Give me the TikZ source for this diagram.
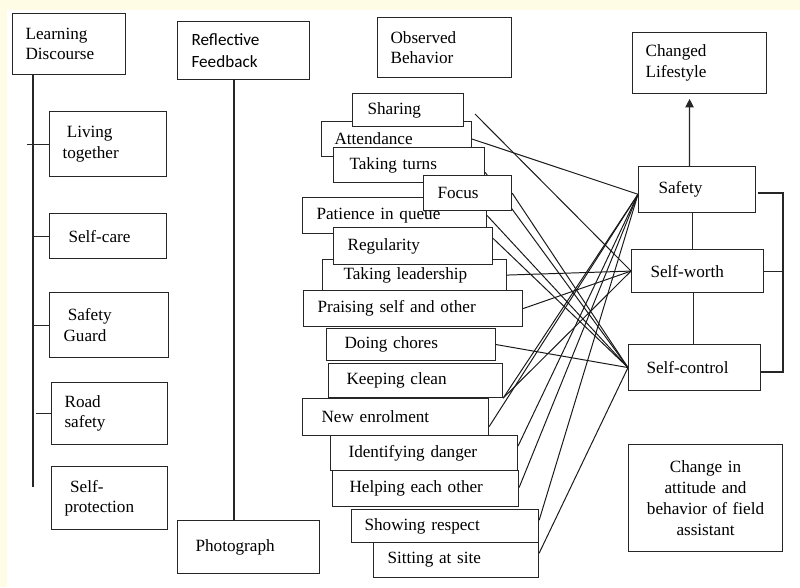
\documentclass[tikz,border=0pt]{standalone}
\usepackage{fontspec}
\setmainfont{Liberation Serif}
\newfontfamily\calibrif{Carlito}
\usetikzlibrary{calc,arrows.meta}
\pgfdeclarelayer{bg}\pgfdeclarelayer{ln}\pgfsetlayers{bg,ln,main}
\definecolor{cream}{HTML}{FFFCE6}
\newlength\bxw \newlength\bxh \newlength\bxp
\newcommand\mkbox[8][]{%
  \pgfmathsetlength\bxp{#7*0.025cm}%
  \pgfmathsetlength\bxw{(#5-#3)*0.025cm-2*\bxp}%
  \pgfmathsetlength\bxh{(#6-#4)*0.025cm}%
  \node[box,#1,text width=\bxw,minimum height=\bxh,inner xsep=\bxp,anchor=north west] (#2) at (#3,#4) {#8};}
\begin{document}
\begin{tikzpicture}[x=0.025cm,y=-0.025cm,
  box/.style={draw=black!85,line width=0.8pt,fill=white,inner ysep=0pt,align=left,
    font=\fontsize{12.2}{14.5}\selectfont},
  conn/.style={draw=black!90,line width=0.7pt},
  tree/.style={draw=black!85,line width=0.8pt}]
\useasboundingbox (0,0) rectangle (800,587);
\begin{pgfonlayer}{bg}
\fill[cream] (0,0) rectangle (800,587);
\fill[white] (7,10) rectangle (800,587);
\end{pgfonlayer}
% left column
\mkbox{ld}{12}{13}{125}{74}{13}{Learning\\Discourse}
\mkbox{lv}{49}{111}{166}{176}{13}{\hspace*{3pt}Living\\together}
\mkbox{scare}{49}{213}{166}{258}{19}{Self-care}
\mkbox{sg}{49}{292}{168}{357}{14}{\hspace*{3pt}Safety\\Guard}
\mkbox{rs}{51}{382}{167}{444}{13}{Road\\safety}
\mkbox{sp}{51}{466}{167}{529}{13}{\hspace*{4pt}Self-\\protection}
% second column
\mkbox[font=\calibrif\fontsize{12.2}{15.6}\selectfont]{rf}{177}{21}{309}{79}{14}{Reflective\\Feedback}
\mkbox{ph}{177}{520}{319}{573}{18}{Photograph}
% observed behaviour column
\mkbox{ob}{377}{17}{511}{77}{13}{Observed\\Behavior}
\mkbox{at}{321}{121}{471}{156}{13}{Attendance}
\mkbox{sh}{352}{93}{463}{126}{15}{Sharing}
\mkbox{tt}{333}{147}{484}{182}{16}{Taking turns}
\mkbox{pq}{302}{197}{486}{233}{14}{Patience in queue}
\mkbox{fo}{423}{175}{511}{210}{14}{Focus}
\mkbox{tl}{322}{259}{506}{290}{21}{Taking leadership}
\mkbox{rg}{333}{227}{492}{264}{14}{Regularity}
\mkbox{pr}{303}{290}{522}{326}{14}{Praising self and other}
\mkbox{dc}{326}{328}{495}{360}{18}{Doing chores}
\mkbox{kc}{328}{363}{502}{397}{18}{Keeping clean}
\mkbox{ne}{302}{398}{488}{435}{19}{New enrolment}
\mkbox{id}{330}{435}{517}{470}{18}{Identifying danger}
\mkbox{he}{332}{470}{518}{506}{17}{Helping each other}
\mkbox{sr}{351}{509}{538}{542}{13}{Showing respect}
\mkbox{ss}{373}{542}{538}{577}{14}{Sitting at site}
% right column
\mkbox{cl}{632}{32}{766}{93}{13}{Changed\\Lifestyle}
\mkbox{sf}{638}{166}{755}{212}{20}{Safety}
\mkbox{sw}{631}{249}{763}{292}{19}{Self-worth}
\mkbox{sc}{628}{344}{760}{390}{18}{Self-control}
\mkbox[align=center,font=\fontsize{12.2}{15}\selectfont]{ch}{628}{444}{782}{551}{8}{Change in\\attitude and\\behavior of field\\assistant}
\begin{pgfonlayer}{ln}
% left tree
\coordinate (lt) at (33,487);
\draw[tree] (ld.south -| lt) -- (lt);
\draw[tree] ([xshift=-0.55cm]lv.west) -- (lv.west);
\draw[tree] (scare.west -| lt) -- (scare.west);
\draw[tree] (sg.west -| lt) -- (sg.west);
\draw[tree] ([xshift=-0.375cm]rs.west) -- (rs.west);
\draw[tree] ($(sp.north west)!0.25!(sp.south west)$ -| lt) -- ($(sp.north west)!0.25!(sp.south west)$);
% reflective feedback to photograph
\coordinate (rl) at (234,0);
\draw[tree] (rf.south -| rl) -- (ph.north -| rl);
% right column links
\draw[tree,-{Triangle[length=6pt,width=6pt]}] ([xshift=-0.19cm]sf.north) -- ([xshift=-0.25cm,yshift=-0.12cm]cl.south);
\draw[tree] ([xshift=-0.12cm]sf.south) -- ([xshift=-0.12cm]sf.south |- sw.north);
\draw[tree] ([xshift=-0.1cm]sw.south) -- ([xshift=-0.1cm]sw.south |- sc.north);
\coordinate (b1) at (758,193);
\coordinate (b2) at (783,193);
\coordinate (b3) at (783,372);
\draw[tree] (b1) -- (b2) -- (b3) -- (sc.east |- b3);
\draw[tree] (sw.east) -- (sw.east -| b2);
% behaviour to outcome connectors
\coordinate (sfin) at ($(sf.north west)!0.6!(sf.south west)$);
\coordinate (shc) at (475,114);
\draw[conn] (shc) -- (sw.west);
\draw[conn] (at.east) -- (sfin);
\draw[conn] ($(tt.north east)!0.7!(tt.south east)$) -- (sc.west);
\draw[conn] (fo.east) -- (sc.west);
\draw[conn] (pq.east) -- (sc.west);
\draw[conn] ($(rg.north east)!0.3!(rg.south east)$) -- (sc.west);
\draw[conn] (tl.east) -- (sw.west);
\draw[conn] (pr.east) -- (sw.west);
\draw[conn] (dc.east) -- (sc.west);
\draw[conn] (kc.south east) -- (sw.west);
\draw[conn] (kc.south east) -- (sfin);
\draw[conn] ($(ne.north east)!0.75!(ne.south east)$) -- (sfin);
\draw[conn] ($(id.north east)!0.3!(id.south east)$) -- (sfin);
\draw[conn] ($(he.north east)!0.47!(he.south east)$) -- (sfin);
\draw[conn] ($(sr.north east)!0.33!(sr.south east)$) -- (sfin);
\draw[conn] ($(ss.north east)!0.31!(ss.south east)$) -- (sc.west);
\end{pgfonlayer}
\end{tikzpicture}
\end{document}
